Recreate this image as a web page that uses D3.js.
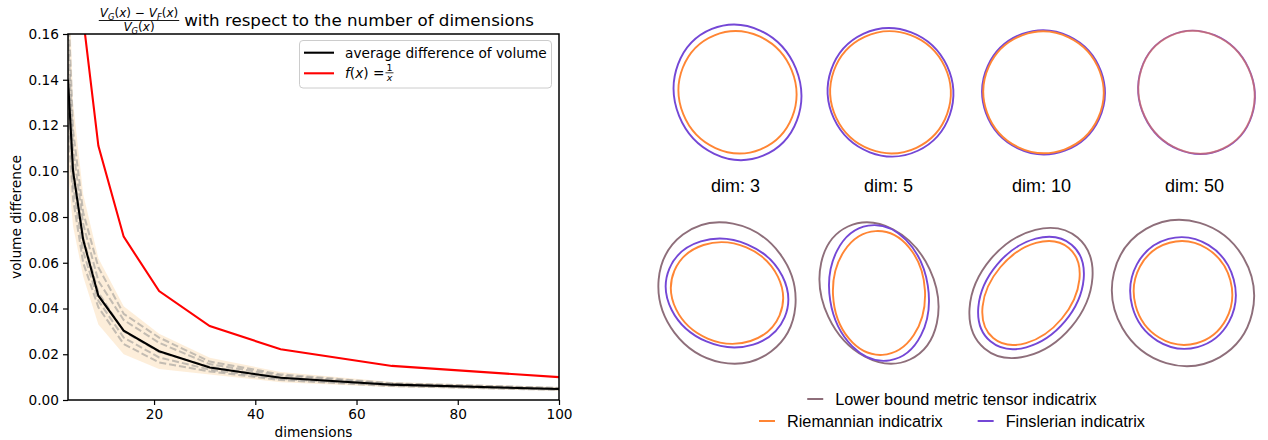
<!DOCTYPE html>
<html><head><meta charset="utf-8">
<script src="https://cdn.jsdelivr.net/npm/d3@7"></script>
<style>
html,body{margin:0;padding:0;background:#fff;}
svg{display:block;}
</style></head>
<body>
<svg id="chart" width="1268" height="440"></svg>
<script>
// ---------- data: left chart ----------
const dims = [3, 4, 6, 9, 14, 21, 31, 45, 67, 100];
const avgDiff = [0.140, 0.100, 0.070, 0.0456, 0.0303, 0.0213, 0.0142, 0.0097, 0.0067, 0.0048];
const inverseX = [0.3333, 0.25, 0.1667, 0.1111, 0.0714, 0.0476, 0.0323, 0.0222, 0.0149, 0.0100];
const run1 = [0.175, 0.118, 0.082, 0.058, 0.0377, 0.0273, 0.0168, 0.0112, 0.0073, 0.0053];
const run2 = [0.160, 0.110, 0.077, 0.052, 0.0350, 0.0250, 0.0157, 0.0106, 0.0070, 0.0051];
const run3 = [0.145, 0.102, 0.071, 0.047, 0.0300, 0.0210, 0.0145, 0.0098, 0.0067, 0.0048];
const run4 = [0.130, 0.094, 0.065, 0.0434, 0.0273, 0.0186, 0.0133, 0.0092, 0.0064, 0.0046];
const run5 = [0.120, 0.088, 0.060, 0.0405, 0.0245, 0.0164, 0.0125, 0.0087, 0.0061, 0.0044];
const bandLow = [0.100, 0.076, 0.054, 0.033, 0.020, 0.0136, 0.0112, 0.0078, 0.0056, 0.0040];
const bandHigh = [0.200, 0.130, 0.090, 0.062, 0.041, 0.029, 0.0185, 0.0122, 0.0079, 0.0057];
const xTicks = [20, 40, 60, 80, 100];
const yTicks = [0, 0.02, 0.04, 0.06, 0.08, 0.10, 0.12, 0.14, 0.16];
const legendLabels = ["average difference of volume", "f(x) = 1/x"];

// ---------- data: right figure (indicatrices, in unit radii: rx, ry, rotation deg) ----------
const dimLabels = ["dim: 3", "dim: 5", "dim: 10", "dim: 50"];
const topFinsler = [[1.050, 1.140, -22], [1.040, 1.075, -25], [1.020, 1.035, -20], [0.955, 1.040, -25]];
const topRiemann = [[0.975, 1.025, -22], [1.000, 1.020, -25], [1.000, 1.015, -20], [0.952, 1.036, -25]];
const botLower = [[1.098, 1.220, -37], [0.933, 1.223, -25], [0.878, 1.207, 40], [1.167, 1.233, -30]];
const botFinsler = [[1.043, 0.878, 23], [0.823, 1.137, -9], [0.738, 1.052, 40], [0.875, 0.933, -15]];
const botRiemann = [[0.952, 0.825, 23], [0.767, 1.033, -3], [0.668, 0.980, 40], [0.817, 0.867, -15]];
const indicatrixLegend = ["Lower bound metric tensor indicatrix", "Riemannian indicatrix", "Finslerian indicatrix"];

// ---------- drawing ----------
const svg = d3.select("#chart");
const DJ = "DejaVu Sans, sans-serif";
const AR = "Liberation Sans, Arial, sans-serif";
const LF = 13.7;

const M = {left: 68, right: 559, top: 34, bottom: 400};
const x = d3.scaleLinear().domain([3, 100]).range([M.left, M.right]);
const y = d3.scaleLinear().domain([0, 0.16]).range([M.bottom, M.top]);

svg.append("defs").append("clipPath").attr("id", "clip")
  .append("rect").attr("x", M.left).attr("y", M.top)
  .attr("width", M.right - M.left).attr("height", M.bottom - M.top);

const plot = svg.append("g").attr("clip-path", "url(#clip)");

// band
const area = d3.area().x((d, i) => x(dims[i])).y0((d, i) => y(bandLow[i])).y1((d, i) => y(bandHigh[i]));
plot.append("path").datum(dims).attr("d", area)
  .attr("fill", "#fbd9ad").attr("fill-opacity", 0.45).attr("stroke", "none");

const line = d3.line().x((d, i) => x(dims[i])).y(d => y(d));
[run1, run2, run3, run4, run5].forEach(r => {
  plot.append("path").datum(r).attr("d", line).attr("fill", "none")
    .attr("stroke", "#8a8a8a").attr("stroke-opacity", 0.5).attr("stroke-width", 2)
    .attr("stroke-dasharray", "7,3");
});
plot.append("path").datum(inverseX).attr("d", line).attr("fill", "none")
  .attr("stroke", "#ff0000").attr("stroke-width", 2.1);
plot.append("path").datum(avgDiff).attr("d", line).attr("fill", "none")
  .attr("stroke", "#000").attr("stroke-width", 2.1);

// axes
const xAxis = svg.append("g").attr("transform", `translate(0,${M.bottom})`)
  .call(d3.axisBottom(x).tickValues(xTicks).tickSize(5).tickPadding(4).tickFormat(d3.format("d")));
const yAxis = svg.append("g").attr("transform", `translate(${M.left},0)`)
  .call(d3.axisLeft(y).tickValues(yTicks).tickSize(5).tickPadding(4).tickFormat(d3.format(".2f")));
[xAxis, yAxis].forEach(a => {
  a.select(".domain").remove();
  a.selectAll(".tick line").attr("stroke", "#000").attr("stroke-width", 1.2);
  a.selectAll(".tick text").attr("font-family", DJ).attr("font-size", LF).attr("fill", "#000");
});
svg.append("rect").attr("x", M.left).attr("y", M.top)
  .attr("width", M.right - M.left).attr("height", M.bottom - M.top)
  .attr("fill", "none").attr("stroke", "#000").attr("stroke-width", 1.5);

svg.append("text").attr("x", (M.left + M.right) / 2).attr("y", 437)
  .attr("text-anchor", "middle").attr("font-family", DJ).attr("font-size", LF).text("dimensions");
svg.append("text").attr("transform", `translate(21,${(M.top + M.bottom) / 2}) rotate(-90)`)
  .attr("text-anchor", "middle").attr("font-family", DJ).attr("font-size", LF).text("volume difference");

// title with fraction
function mathV(t, sub, fs) {
  t.append("tspan").attr("font-style", "italic").text("V");
  t.append("tspan").attr("font-style", "italic").attr("font-size", fs * 0.7).attr("dy", fs * 0.25).text(sub);
  t.append("tspan").attr("dy", -fs * 0.25).text("(");
  t.append("tspan").attr("font-style", "italic").text("x");
  t.append("tspan").text(")");
}
const fracX = 139, fs = 12;
const num = svg.append("text").attr("x", fracX).attr("y", 16.5).attr("text-anchor", "middle")
  .attr("font-family", DJ).attr("font-size", fs);
mathV(num, "G", fs); num.append("tspan").text(" \u2212 "); mathV(num, "F", fs);
const numW = num.node().getComputedTextLength();
svg.append("line").attr("x1", fracX - numW / 2 - 1).attr("x2", fracX + numW / 2 + 1).attr("y1", 20.5).attr("y2", 20.5)
  .attr("stroke", "#000").attr("stroke-width", 0.9);
const den = svg.append("text").attr("x", fracX).attr("y", 31).attr("text-anchor", "middle")
  .attr("font-family", DJ).attr("font-size", fs);
mathV(den, "G", fs);
svg.append("text").attr("x", fracX + numW / 2 + 6).attr("y", 25.5).attr("font-family", DJ).attr("font-size", 16.7)
  .text("with respect to the number of dimensions");

// legend box
const lg = svg.append("g");
lg.append("rect").attr("x", 299.5).attr("y", 40.5).attr("width", 252).attr("height", 47.5)
  .attr("rx", 3.5).attr("fill", "#fff").attr("fill-opacity", 0.8).attr("stroke", "#cccccc").attr("stroke-width", 1);
const legRows = [{c: "#000", y: 52.7}, {c: "#ff0000", y: 73.3}];
legRows.forEach((r, i) => {
  lg.append("line").attr("x1", 304).attr("x2", 334).attr("y1", r.y).attr("y2", r.y)
    .attr("stroke", r.c).attr("stroke-width", 2.1);
});
lg.append("text").attr("x", 345).attr("y", 57.5).attr("font-family", DJ).attr("font-size", LF).text(legendLabels[0]);
const f2 = lg.append("text").attr("x", 345).attr("y", 77.5).attr("font-family", DJ).attr("font-size", LF);
f2.append("tspan").attr("font-style", "italic").text("f");
f2.append("tspan").text("(");
f2.append("tspan").attr("font-style", "italic").text("x");
f2.append("tspan").text(") = ");
const fEnd = 345 + f2.node().getComputedTextLength();
const fcx = fEnd + 5;
lg.append("text").attr("x", fcx).attr("y", 71).attr("text-anchor", "middle").attr("font-family", DJ).attr("font-size", 9.5).text("1");
lg.append("line").attr("x1", fcx - 4).attr("x2", fcx + 4).attr("y1", 72.8).attr("y2", 72.8).attr("stroke", "#000").attr("stroke-width", 0.8);
lg.append("text").attr("x", fcx).attr("y", 80.5).attr("text-anchor", "middle").attr("font-family", DJ).attr("font-size", 9.5).attr("font-style", "italic").text("x");

// ---------- right figure ----------
const COL = {brown: "#8e6e7a", purple: "#7447d6", orange: "#ff8534"};
const r = d3.scaleLinear().domain([0, 1]).range([0, 60]);
const topCols = d3.scaleBand().domain(dimLabels).range([661, 1273]);
const botCols = d3.scaleBand().domain(d3.range(4)).range([651, 1259]);
const topY = 92.3, botY = 293;

function drawEll(g, cx, cy, e, color, op) {
  g.append("ellipse").attr("cx", 0).attr("cy", 0).attr("rx", r(e[0])).attr("ry", r(e[1]))
    .attr("transform", `translate(${cx},${cy}) rotate(${e[2]})`)
    .attr("fill", "none").attr("stroke", color).attr("stroke-width", 1.9).attr("stroke-opacity", op);
}
const rg = svg.append("g");
dimLabels.forEach((lab, i) => {
  const cx = topCols(lab) + topCols.bandwidth() / 2;
  const same = Math.abs(topFinsler[i][0] - topRiemann[i][0]) < 0.01 && Math.abs(topFinsler[i][1] - topRiemann[i][1]) < 0.01;
  drawEll(rg, cx, topY, topFinsler[i], COL.purple, 1);
  drawEll(rg, cx, topY, topRiemann[i], COL.orange, same ? 0.5 : 1);
  rg.append("text").attr("x", cx - 2).attr("y", 192).attr("text-anchor", "middle")
    .attr("font-family", AR).attr("font-size", 18).text(lab);
  const bx = botCols(i) + botCols.bandwidth() / 2;
  drawEll(rg, bx, botY, botLower[i], COL.brown, 1);
  drawEll(rg, bx, botY, botFinsler[i], COL.purple, 1);
  drawEll(rg, bx, botY, botRiemann[i], COL.orange, 1);
});

// indicatrix legend
const legCenter = 952;
const legendRows = [[{t: indicatrixLegend[0], c: COL.brown}], [{t: indicatrixLegend[1], c: COL.orange}, {t: indicatrixLegend[2], c: COL.purple}]];
const rowY = [399, 421];
legendRows.forEach((row, ri) => {
  const g = svg.append("g");
  let cur = 0;
  row.forEach((it, k) => {
    if (k > 0) cur += 35;
    g.append("line").attr("x1", cur).attr("x2", cur + 16).attr("y1", rowY[ri]).attr("y2", rowY[ri])
      .attr("stroke", it.c).attr("stroke-width", 2);
    const t = g.append("text").attr("x", cur + 28).attr("y", rowY[ri] + 5.7)
      .attr("font-family", AR).attr("font-size", 16.3).text(it.t);
    cur += 28 + t.node().getComputedTextLength();
  });
  g.attr("transform", `translate(${legCenter - cur / 2},0)`);
});
</script>
</body></html>
